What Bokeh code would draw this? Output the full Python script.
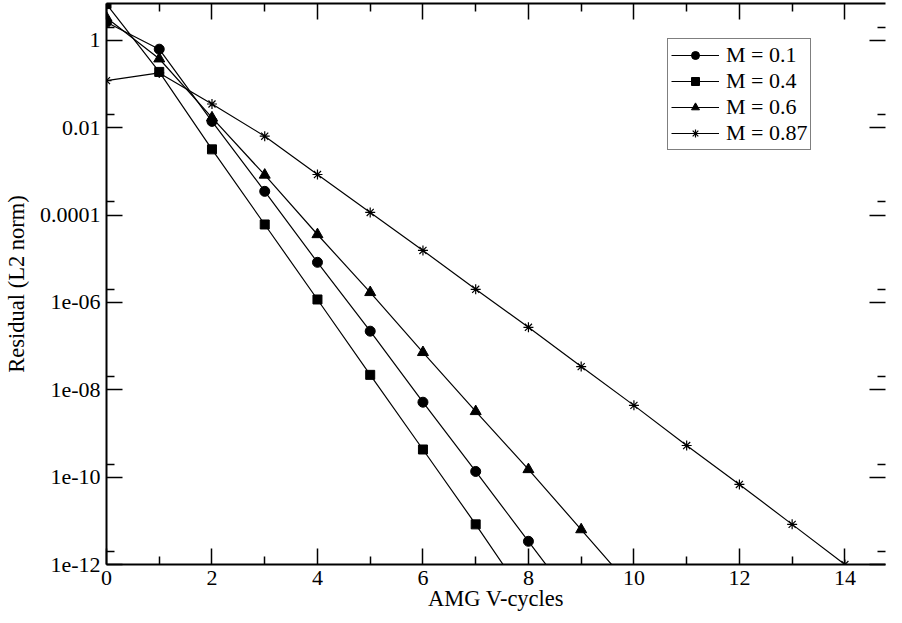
from bokeh.plotting import figure
from bokeh.models import (FixedTicker, CustomJSTickFormatter, LinearAxis, LogAxis,
                          Legend)
from bokeh.embed import file_html
from bokeh.resources import INLINE

# ---- data ----
cycles_m01 = [0, 1, 2, 3, 4, 5, 6, 7, 8, 9]
res_m01 = [2.6, 0.63, 0.014, 3.5e-4, 8.3e-6, 2.2e-7, 5.2e-9, 1.35e-10, 3.4e-12, 8.5e-14]

cycles_m04 = [0, 1, 2, 3, 4, 5, 6, 7, 8]
res_m04 = [6.8, 0.19, 3.2e-3, 6.1e-5, 1.17e-6, 2.2e-8, 4.3e-10, 8.3e-12, 1.4e-13]

cycles_m06 = [0, 1, 2, 3, 4, 5, 6, 7, 8, 9, 10]
res_m06 = [3.3, 0.38, 0.017, 8.3e-4, 3.6e-5, 1.7e-6, 7.2e-8, 3.2e-9, 1.5e-10, 6.3e-12, 2.6e-13]

cycles_m087 = [0, 1, 2, 3, 4, 5, 6, 7, 8, 9, 10, 11, 12, 13, 14]
res_m087 = [0.12, 0.18, 0.035, 6.4e-3, 8.5e-4, 1.15e-4, 1.55e-5, 2.0e-6, 2.7e-7,
            3.4e-8, 4.4e-9, 5.3e-10, 6.8e-11, 8.3e-12, 1.0e-12]

series_labels = ["M = 0.1", "M = 0.4", "M = 0.6", "M = 0.87"]

x_major = [0, 2, 4, 6, 8, 10, 12, 14]
x_minor = [1, 3, 5, 7, 9, 11, 13]
y_major = [1e-12, 1e-10, 1e-08, 1e-06, 1e-04, 1e-02, 1.0]
y_minor = [2e-12, 2e-10, 2e-08, 2e-06, 2e-04, 2e-02, 2.0]
y_labels = ["1e-12", "1e-10", "1e-08", "1e-06", "0.0001", "0.01", "1"]

FONT = "Liberation Serif"
TICK_FS = "22px"
LABEL_FS = "22.5px"

p = figure(width=886, height=614, x_range=(0, 14.77), y_range=(1e-12, 7),
           y_axis_type="log", output_backend="svg", toolbar_location=None,
           min_border_left=96, min_border_right=1, min_border_top=3,
           min_border_bottom=50)
p.outline_line_color = None
p.xgrid.visible = False
p.ygrid.visible = False
p.background_fill_color = "white"
p.border_fill_color = "white"

x_ticker = FixedTicker(ticks=x_major, minor_ticks=x_minor)
y_ticker = FixedTicker(ticks=y_major, minor_ticks=y_minor)
y_fmt = CustomJSTickFormatter(args=dict(vals=y_major, labs=y_labels), code="""
    let best = 0, bd = 1e9;
    for (let i = 0; i < vals.length; i++) {
        const d = Math.abs(Math.log10(tick) - Math.log10(vals[i]));
        if (d < bd) { bd = d; best = i; }
    }
    return labs[best];
""")
empty_fmt = CustomJSTickFormatter(code="return '';")


def style_axis(ax):
    ax.axis_line_width = 2
    ax.axis_line_color = "black"
    ax.major_tick_in = 16
    ax.major_tick_out = 0
    ax.minor_tick_in = 8
    ax.minor_tick_out = 0
    ax.major_tick_line_width = 1.5
    ax.minor_tick_line_width = 1.5
    ax.major_tick_line_color = "black"
    ax.minor_tick_line_color = "black"
    ax.major_label_text_font = FONT
    ax.major_label_text_font_size = TICK_FS
    ax.major_label_text_color = "black"
    ax.axis_label_text_font = FONT
    ax.axis_label_text_font_size = LABEL_FS
    ax.axis_label_text_font_style = "normal"
    ax.axis_label_text_color = "black"


xa = p.xaxis[0]
xa.ticker = x_ticker
xa.axis_label = "AMG V-cycles"
style_axis(xa)
xa.major_label_standoff = 6
xa.axis_label_standoff = -2

ya = p.yaxis[0]
ya.ticker = y_ticker
ya.formatter = y_fmt
ya.axis_label = "Residual (L2 norm)"
style_axis(ya)
ya.major_label_standoff = 6
ya.axis_label_standoff = 8

top = LinearAxis(ticker=x_ticker, formatter=empty_fmt)
style_axis(top)
top.major_label_standoff = 0
top.major_label_text_font_size = "1px"
p.add_layout(top, "above")

right = LogAxis(ticker=y_ticker, formatter=empty_fmt)
style_axis(right)
right.axis_line_color = None
right.major_label_standoff = 0
right.major_label_text_font_size = "1px"
p.add_layout(right, "right")

series = [
    (cycles_m01, res_m01, "circle", 10),
    (cycles_m04, res_m04, "square", 9),
    (cycles_m06, res_m06, "triangle", 11),
    (cycles_m087, res_m087, "asterisk", 10),
]
items = []
for (xs, ys, mk, sz), lab in zip(series, series_labels):
    ln = p.line(xs, ys, line_color="black", line_width=1.2)
    if mk == "asterisk":
        sc = p.scatter(xs, ys, marker=mk, size=sz, line_color="black", line_width=1.2)
    else:
        sc = p.scatter(xs, ys, marker=mk, size=sz, fill_color="black", line_color="black")
    items.append((lab, [ln, sc]))

legend = Legend(items=items, location=(561, 414))
legend.border_line_color = "black"
legend.border_line_width = 1.5
legend.background_fill_color = "white"
legend.background_fill_alpha = 1
legend.label_text_font = FONT
legend.label_text_font_size = "22px"
legend.label_text_color = "black"
legend.glyph_width = 48
legend.glyph_height = 20
legend.label_height = 20
legend.spacing = 0
legend.padding = 3
legend.margin = 0
legend.label_standoff = 7
p.add_layout(legend, "center")

open("out.html", "w").write(file_html(p, INLINE))
